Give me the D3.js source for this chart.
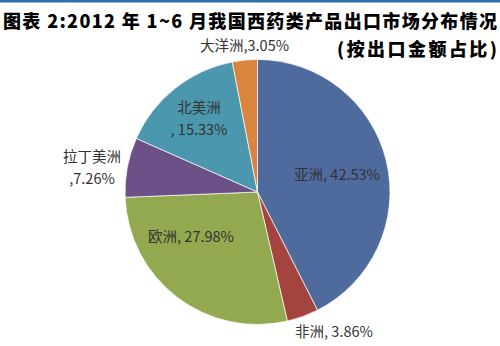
<!DOCTYPE html>
<html><head><meta charset="utf-8">
<script src="https://cdn.jsdelivr.net/npm/d3@7"></script>
<style>
html,body{margin:0;padding:0;background:#fff;}
svg{display:block;}
</style></head>
<body>
<svg id="chart" width="500" height="346"></svg>
<script>
const categories = ["亚洲", "非洲", "欧洲", "拉丁美洲", "北美洲", "大洋洲"];
const shares = [42.53, 3.86, 27.98, 7.26, 15.33, 3.05];
const labelLines = [
  ["亚洲, 42.53%"],
  ["非洲, 3.86%"],
  ["欧洲, 27.98%"],
  ["拉丁美洲", ",7.26%"],
  ["北美洲", ", 15.33%"],
  ["大洋洲,3.05%"]
];
const colors = ["#4f6b9e", "#a3443f", "#93a94f", "#6b5188", "#4b97ae", "#d9853d"];
const titleLine1 = "图表 2:2012 年 1~6 月我国西药类产品出口市场分布情况";
const titleLine2 = "(按出口金额占比)";

// layout (label anchor centres relative to pie centre)
const labelPos = [[79.5,-17],[76.5,140],[-66.5,45],[-165.5,-24],[-58.5,-73],[-13,-146]];

const svg = d3.select("#chart");
svg.append("rect").attr("x",0).attr("y",0).attr("width",500).attr("height",2.5).attr("fill","#2f6fae");

const cx = 257.5, cy = 192, r = 132.5;
const pie = d3.pie().sort(null).value(d => d);
const arc = d3.arc().innerRadius(0).outerRadius(r);
const g = svg.append("g").attr("transform", `translate(${cx},${cy})`);
g.selectAll("path").data(pie(shares)).join("path")
  .attr("d", arc)
  .attr("fill", (d,i) => colors[i])
  .attr("stroke", "#ffffff").attr("stroke-width", 0.7);

const font = "'Noto Sans CJK SC','Noto Sans',sans-serif";
g.selectAll("text.lbl").data(labelLines).join("text")
  .attr("class","lbl")
  .attr("text-anchor","middle")
  .attr("font-family", font)
  .attr("font-size", 14.5)
  .attr("fill", "#333")
  .each(function(lines, i){
    const t = d3.select(this);
    const [x, y] = labelPos[i];
    const n = lines.length;
    lines.forEach((ln, k) => {
      t.append("tspan").attr("x", x)
        .attr("y", y + (k - (n-1)/2) * 21.5)
        .attr("dy", "0.35em").text(ln);
    });
  });

svg.append("text").attr("x", 3).attr("y", 27.5)
  .attr("font-family", font).attr("font-weight", 900).attr("font-size", 18)
  .attr("fill", "#000").attr("textLength", 494).attr("lengthAdjust", "spacing")
  .text(titleLine1);
svg.append("text").attr("x", 337).attr("y", 56)
  .attr("font-family", font).attr("font-weight", 900).attr("font-size", 18)
  .attr("fill", "#000").attr("textLength", 160).attr("lengthAdjust", "spacing")
  .text(titleLine2);
</script>
</body></html>
